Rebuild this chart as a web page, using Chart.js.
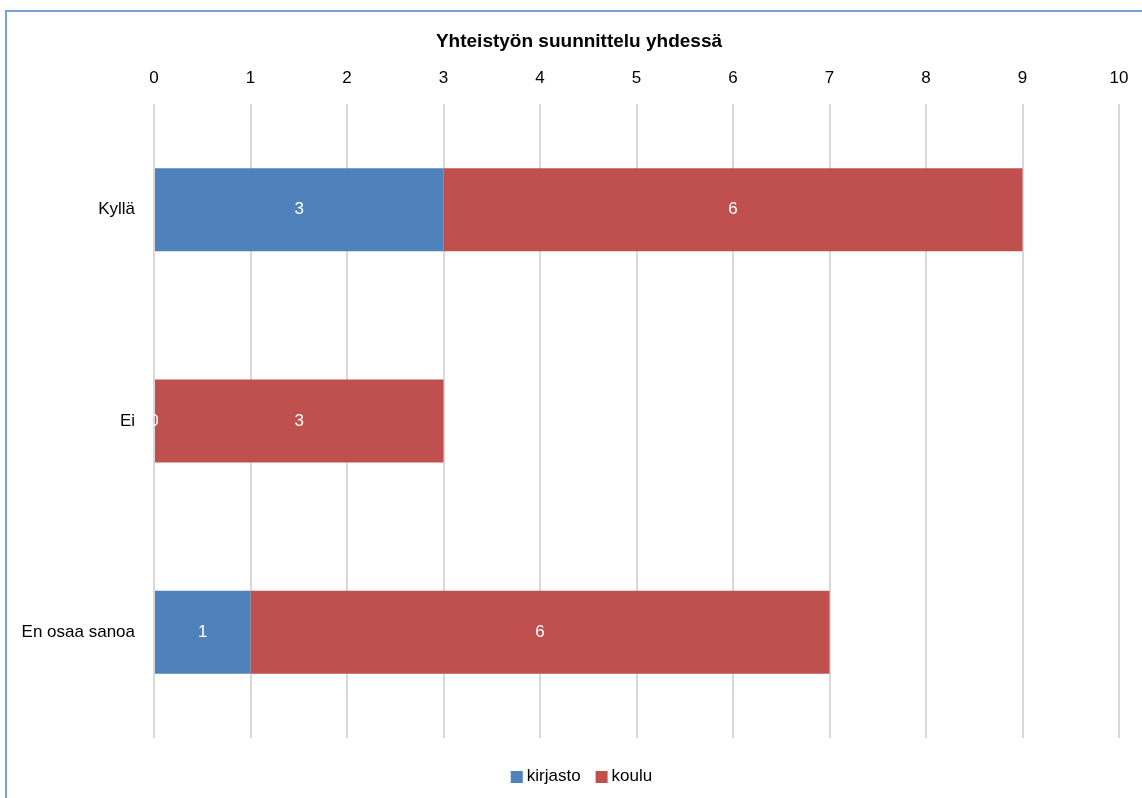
<!DOCTYPE html>
<html>
<head>
<meta charset="utf-8">
<script src="https://cdn.jsdelivr.net/npm/chart.js@4/dist/chart.umd.min.js"></script>
<style>
  html, body { margin: 0; padding: 0; background: #fff; }
  #wrap { position: relative; width: 1142px; height: 798px; overflow: hidden; }
  #frame { position: absolute; left: 5px; top: 10px; width: 1200px; height: 900px;
           border-left: 2px solid #7aa0d2; border-top: 2px solid #7aa0d2; box-sizing: border-box; }
  #c { position: absolute; left: 0; top: 0; }
</style>
</head>
<body>
<div id="wrap">
  <div id="frame"></div>
  <canvas id="c" width="1142" height="798"></canvas>
</div>
<script>
const chartTitle = 'Yhteistyön suunnittelu yhdessä';
const categories = ['Kyllä', 'Ei', 'En osaa sanoa'];
const seriesNames = ['kirjasto', 'koulu'];
const kirjastoValues = [3, 0, 1];
const kouluValues = [6, 3, 6];
const xTicks = [0, 1, 2, 3, 4, 5, 6, 7, 8, 9, 10];

const FONT = "'Liberation Sans', Arial, sans-serif";

const valueLabels = {
  id: 'valueLabels',
  afterDatasetsDraw(chart) {
    const ctx = chart.ctx;
    ctx.save();
    ctx.fillStyle = '#ffffff';
    ctx.font = '17px ' + FONT;
    ctx.textAlign = 'center';
    ctx.textBaseline = 'middle';
    chart.data.datasets.forEach((ds, di) => {
      const meta = chart.getDatasetMeta(di);
      meta.data.forEach((bar, i) => {
        const v = ds.data[i];
        const cx = (bar.x + bar.base) / 2;
        ctx.fillText(String(v), cx, bar.y);
      });
    });
    ctx.restore();
  }
};

// Title and compact legend, centred on the frame as in the reference
const frameDecor = {
  id: 'frameDecor',
  afterDraw(chart) {
    const ctx = chart.ctx;
    const centerX = 579;
    ctx.save();
    ctx.fillStyle = '#000';
    ctx.font = 'bold 19px ' + FONT;
    ctx.textAlign = 'center';
    ctx.textBaseline = 'middle';
    ctx.fillText(chartTitle, centerX, 42);

    const box = 12, gap = 4, itemGap = 15;
    ctx.font = '17px ' + FONT;
    ctx.textAlign = 'left';
    const items = chart.data.datasets.map(ds => ({
      text: ds.label, color: ds.backgroundColor, w: ctx.measureText(ds.label).width
    }));
    const total = items.reduce((s, it) => s + box + gap + it.w, 0) + itemGap * (items.length - 1);
    const yBox = chart.chartArea.bottom + 33;
    let x = 581.5 - total / 2;
    items.forEach(it => {
      ctx.fillStyle = it.color;
      ctx.fillRect(x, yBox, box, box);
      ctx.fillStyle = '#000';
      ctx.fillText(it.text, x + box + gap, yBox + box / 2 - 1);
      x += box + gap + it.w + itemGap;
    });
    ctx.restore();
  }
};

new Chart(document.getElementById('c'), {
  type: 'bar',
  data: {
    labels: categories,
    datasets: [
      { label: seriesNames[0], data: kirjastoValues, backgroundColor: '#4f81bd' },
      { label: seriesNames[1], data: kouluValues, backgroundColor: '#c0504d' }
    ]
  },
  options: {
    indexAxis: 'y',
    responsive: false,
    animation: false,
    devicePixelRatio: 1,
    layout: { padding: { top: 67.8, left: 10, right: 23, bottom: 60 } },
    datasets: { bar: { barPercentage: 1, categoryPercentage: 0.393 } },
    scales: {
      x: {
        position: 'top',
        stacked: true,
        min: 0, max: 10,
        afterBuildTicks(scale) { scale.ticks = xTicks.map(v => ({ value: v })); },
        afterFit(scale) { scale.paddingLeft = 0; scale.paddingRight = 0; scale.height = 36.2; },
        grid: { color: '#d9d9d9', lineWidth: 2, drawTicks: false },
        border: { display: false },
        ticks: { color: '#000', font: { family: FONT, size: 17 }, padding: 15.8 }
      },
      y: {
        stacked: true,
        grid: { display: false, drawTicks: false },
        border: { display: false },
        afterFit(scale) { scale.width = 144; scale.paddingTop = 0; scale.paddingBottom = 0; },
        ticks: { color: '#000', font: { family: FONT, size: 17 }, padding: 19 }
      }
    },
    plugins: {
      title: { display: false },
      legend: { display: false },
      tooltip: { enabled: false }
    }
  },
  plugins: [valueLabels, frameDecor]
});
</script>
</body>
</html>
